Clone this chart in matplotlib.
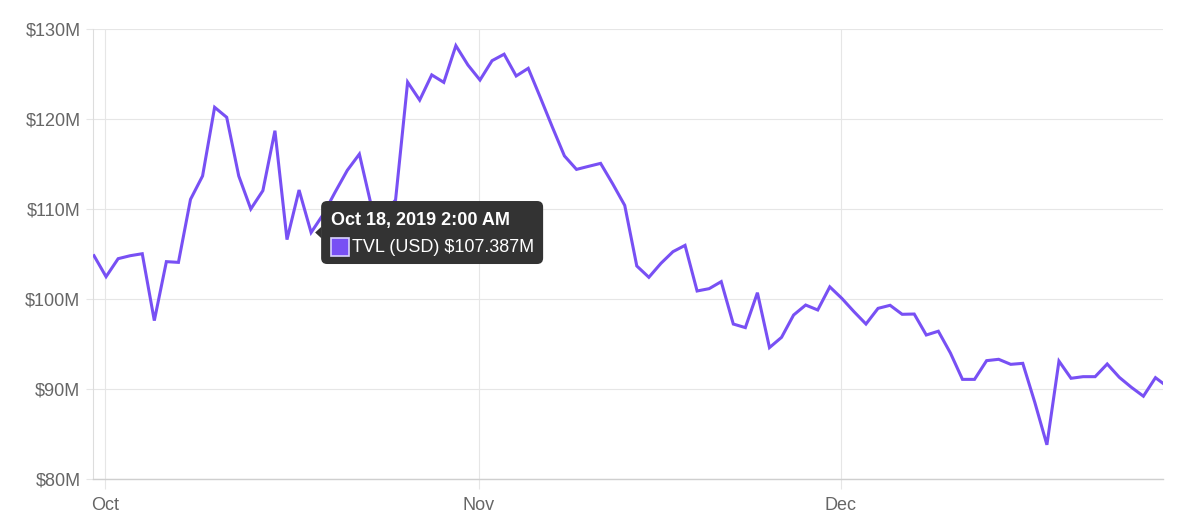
import numpy as np
import pandas as pd
import matplotlib
matplotlib.use("Agg")
import matplotlib.pyplot as plt
import matplotlib.dates as mdates
from matplotlib.patches import FancyBboxPatch, Polygon, Rectangle
from matplotlib.transforms import IdentityTransform
from matplotlib.ticker import FuncFormatter

plt.rcParams['font.family'] = ['Liberation Sans', 'DejaVu Sans']

# ---- data (TVL in USD millions, daily) ----
start_date = "2019-09-30 02:00"
tvl_musd = [
    104.81, 102.48, 104.48, 104.81, 105.03, 97.6, 104.15, 104.07, 111.07, 113.67,
    121.3, 120.19, 113.67, 110.0, 112.04, 118.7, 106.6, 112.11, 107.387, 109.4,
    111.9, 114.3, 116.1, 110.3, 109.5, 111.0, 124.1, 122.1, 124.9, 124.07,
    128.15, 126.0, 124.33, 126.48, 127.2, 124.78, 125.63, 122.4, 119.1, 115.9,
    114.4, 114.74, 115.07, 112.8, 110.4, 103.67, 102.41, 103.96, 105.26, 105.96,
    100.89, 101.15, 101.93, 97.22, 96.82, 100.7, 94.6, 95.74, 98.22, 99.33,
    98.78, 101.35, 100.07, 98.6, 97.22, 98.96, 99.3, 98.3, 98.33, 96.0,
    96.42, 94.0, 91.07, 91.07, 93.15, 93.3, 92.74, 92.85, 88.5, 83.8,
    93.1, 91.19, 91.37, 91.37, 92.78, 91.3, 90.19, 89.2, 91.26, 90.25,
]
dates = pd.date_range(start_date, periods=len(tvl_musd), freq="D")

series_label = "TVL (USD)"
tooltip_index = 18
tooltip_title = "Oct 18, 2019 2:00 AM"
y_ticks = [80, 90, 100, 110, 120, 130]

LINE = "#7850F4"
GRID = "#e6e6e6"
TXT = "#666666"

W, H = 1177, 525
fig = plt.figure(figsize=(W / 100, H / 100), dpi=100)
ax = fig.add_axes([93 / W, 46 / H, 1070 / W, 450 / H])

ax.plot(dates, tvl_musd, color=LINE, lw=2.2, solid_joinstyle="miter", zorder=3)

ax.set_ylim(80, 130)
ax.set_yticks(y_ticks)
ax.yaxis.set_major_formatter(FuncFormatter(lambda v, p: f"${v:.0f}M"))
ax.set_xlim(pd.Timestamp("2019-09-30 00:00"), pd.Timestamp("2019-12-27 17:00"))
ax.xaxis.set_major_locator(mdates.MonthLocator())
ax.xaxis.set_major_formatter(mdates.DateFormatter("%b"))

ax.grid(True, color=GRID, lw=0.8, zorder=0)
ax.spines["right"].set_visible(False)
ax.spines["top"].set_visible(False)
ax.spines["left"].set_color("#dddddd")
ax.spines["left"].set_linewidth(0.8)
ax.spines["bottom"].set_color("#cfcfcf")
ax.spines["bottom"].set_linewidth(1.0)
ax.tick_params(axis="y", length=5, color=GRID, width=0.8, labelcolor=TXT, labelsize=13, pad=4)
ax.tick_params(axis="x", length=7, color=GRID, width=0.8, labelcolor=TXT, labelsize=13, pad=6)

# ---- tooltip ----
fig.canvas.draw()
px, py = ax.transData.transform((mdates.date2num(dates[tooltip_index]), tvl_musd[tooltip_index]))
box_l = px + 10
box_w, box_h = 222, 63
box_b = py - box_h / 2
tip_col = "#333333"
ax.add_patch(FancyBboxPatch((box_l, box_b), box_w, box_h,
                            boxstyle="round,pad=0,rounding_size=6",
                            transform=IdentityTransform(), fc=tip_col, ec="none",
                            zorder=10, clip_on=False))
ax.add_patch(Polygon([(px + 4, py), (box_l + 0.5, py + 6), (box_l + 0.5, py - 6)],
                     closed=True, transform=IdentityTransform(), fc=tip_col, ec="none",
                     zorder=10, clip_on=False))
ax.text(box_l + 10, py + 8, tooltip_title, transform=IdentityTransform(),
        color="white", fontsize=13, fontweight="bold", ha="left", va="baseline",
        zorder=11, clip_on=False)
ax.add_patch(Rectangle((box_l + 10, py - 23), 18, 18, transform=IdentityTransform(),
                       fc=LINE, ec="#d9d2ff", lw=1.2, zorder=11, clip_on=False))
ax.text(box_l + 31, py - 19,
        f"{series_label} ${tvl_musd[tooltip_index]:.3f}M",
        transform=IdentityTransform(), color="white", fontsize=13,
        ha="left", va="baseline", zorder=11, clip_on=False)

fig.savefig("out.png", dpi=100)
